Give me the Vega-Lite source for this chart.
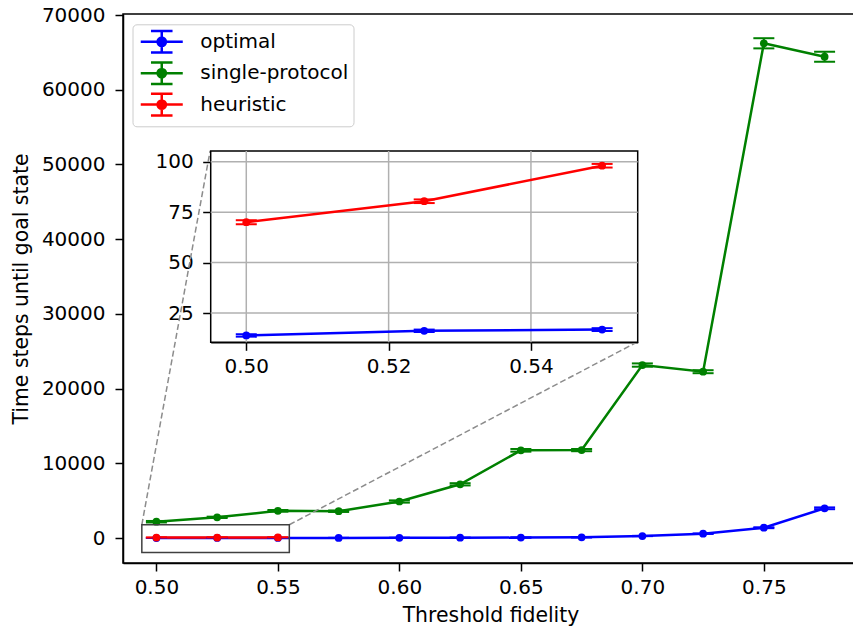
{
  "$schema": "https://vega.github.io/schema/vega-lite/v6.json",
  "autosize": {"type": "none"},
  "padding": {"left": 123, "top": 14, "right": 0, "bottom": 63},
  "width": 735,
  "height": 549,
  "background": "white",
  "config": {
    "font": "DejaVu Sans",
    "view": {"stroke": "black", "strokeWidth": 1.5},
    "axis": {
      "labelFont": "DejaVu Sans", "labelFontSize": 20, "labelColor": "black",
      "titleFont": "DejaVu Sans", "titleFontSize": 20.4, "titleFontWeight": "normal", "titleColor": "black",
      "tickColor": "black", "tickSize": 8, "tickWidth": 1.5,
      "domainColor": "black", "domainWidth": 1.5, "grid": false
    }
  },
  "datasets": {
    "d": [
      {"fidelity": 0.500, "steps": 13.9, "err": 0.6, "method": "optimal"},
      {"fidelity": 0.525, "steps": 16.2, "err": 0.6, "method": "optimal"},
      {"fidelity": 0.550, "steps": 16.8, "err": 0.7, "method": "optimal"},
      {"fidelity": 0.575, "steps": 29, "err": 1, "method": "optimal"},
      {"fidelity": 0.600, "steps": 35, "err": 2, "method": "optimal"},
      {"fidelity": 0.625, "steps": 50, "err": 3, "method": "optimal"},
      {"fidelity": 0.650, "steps": 70, "err": 4, "method": "optimal"},
      {"fidelity": 0.675, "steps": 110, "err": 6, "method": "optimal"},
      {"fidelity": 0.700, "steps": 280, "err": 15, "method": "optimal"},
      {"fidelity": 0.725, "steps": 590, "err": 30, "method": "optimal"},
      {"fidelity": 0.750, "steps": 1390, "err": 60, "method": "optimal"},
      {"fidelity": 0.775, "steps": 3990, "err": 120, "method": "optimal"},
      {"fidelity": 0.500, "steps": 2195, "err": 100, "method": "single-protocol"},
      {"fidelity": 0.525, "steps": 2780, "err": 90, "method": "single-protocol"},
      {"fidelity": 0.550, "steps": 3650, "err": 110, "method": "single-protocol"},
      {"fidelity": 0.575, "steps": 3600, "err": 100, "method": "single-protocol"},
      {"fidelity": 0.600, "steps": 4900, "err": 150, "method": "single-protocol"},
      {"fidelity": 0.625, "steps": 7200, "err": 150, "method": "single-protocol"},
      {"fidelity": 0.650, "steps": 11750, "err": 180, "method": "single-protocol"},
      {"fidelity": 0.675, "steps": 11780, "err": 150, "method": "single-protocol"},
      {"fidelity": 0.700, "steps": 23160, "err": 220, "method": "single-protocol"},
      {"fidelity": 0.725, "steps": 22270, "err": 200, "method": "single-protocol"},
      {"fidelity": 0.750, "steps": 66220, "err": 680, "method": "single-protocol"},
      {"fidelity": 0.775, "steps": 64420, "err": 670, "method": "single-protocol"},
      {"fidelity": 0.500, "steps": 70.0, "err": 1.0, "method": "heuristic"},
      {"fidelity": 0.525, "steps": 80.4, "err": 0.9, "method": "heuristic"},
      {"fidelity": 0.550, "steps": 98.0, "err": 0.9, "method": "heuristic"}
    ],
    "zoombox": [{"x": 0.494, "x2": 0.5547, "y": -1910, "y2": 1790}],
    "connectors": [
      {"x": 0.494, "y": 1790, "x2": 0.5221, "y2": 51820},
      {"x": 0.5547, "y": 1790, "x2": 0.6978, "y2": 26230}
    ],
    "insetXGrid": [{"v": 0.50}, {"v": 0.52}, {"v": 0.54}],
    "insetYGrid": [{"v": 25}, {"v": 50}, {"v": 75}, {"v": 100}]
  },
  "resolve": {"scale": {"x": "independent", "y": "independent"}, "axis": {"x": "independent", "y": "independent"}},
  "layer": [
    {
      "data": {"name": "d"},
      "mark": {"type": "line", "strokeWidth": 2.5},
      "encoding": {
        "x": {"field": "fidelity", "type": "quantitative", "scale": {"domain": [0.48625, 0.78875], "nice": false, "zero": false},
              "axis": {"orient": "bottom", "title": "Threshold fidelity", "values": [0.5, 0.55, 0.6, 0.65, 0.7, 0.75], "format": ".2f", "labelPadding": 6, "titlePadding": 8}},
        "y": {"field": "steps", "type": "quantitative", "scale": {"domain": [-3330, 70140], "nice": false, "zero": false},
              "axis": {"orient": "left", "title": "Time steps until goal state", "values": [0, 10000, 20000, 30000, 40000, 50000, 60000, 70000], "format": "d", "labelPadding": 10, "titlePadding": 10}},
        "color": {"field": "method", "type": "nominal",
                  "scale": {"domain": ["optimal", "single-protocol", "heuristic"], "range": ["#0000ff", "#008000", "#ff0000"]},
                  "legend": {
                    "orient": "none", "legendX": 9.5, "legendY": 10.3, "title": null,
                    "padding": 5, "strokeColor": "#cccccc", "fillColor": "rgba(255,255,255,0.8)", "cornerRadius": 4,
                    "labelFont": "DejaVu Sans", "labelFontSize": 20, "labelColor": "black", "labelOffset": 26,
                    "symbolType": "M-1.91,0H1.91M0,-0.98V0.98M-0.98,-0.98H0.98M-0.98,0.98H0.98M-0.38,0A0.38,0.38,0,1,0,0.38,0A0.38,0.38,0,1,0,-0.38,0Z",
                    "symbolSize": 484, "symbolStrokeWidth": 2.5, "symbolOffset": 11.75, "rowPadding": -1.6,
                    "encode": {"symbols": {"update": {"fill": {"scale": "color", "field": "value"}, "stroke": {"scale": "color", "field": "value"}, "opacity": {"value": 1}}}}
                  }}
      }
    },
    {
      "data": {"name": "d"},
      "mark": {"type": "errorbar", "ticks": {"size": 21}, "thickness": 2, "opacity": 1},
      "encoding": {
        "x": {"field": "fidelity", "type": "quantitative", "scale": {"domain": [0.48625, 0.78875], "nice": false, "zero": false}, "axis": null},
        "y": {"field": "steps", "type": "quantitative", "scale": {"domain": [-3330, 70140], "nice": false, "zero": false}, "axis": null},
        "yError": {"field": "err"},
        "color": {"field": "method", "type": "nominal", "scale": {"domain": ["optimal", "single-protocol", "heuristic"], "range": ["#0000ff", "#008000", "#ff0000"]}, "legend": null}
      }
    },
    {
      "data": {"name": "d"},
      "mark": {"type": "point", "filled": true, "size": 60, "opacity": 1},
      "encoding": {
        "x": {"field": "fidelity", "type": "quantitative", "scale": {"domain": [0.48625, 0.78875], "nice": false, "zero": false}, "axis": null},
        "y": {"field": "steps", "type": "quantitative", "scale": {"domain": [-3330, 70140], "nice": false, "zero": false}, "axis": null},
        "color": {"field": "method", "type": "nominal", "scale": {"domain": ["optimal", "single-protocol", "heuristic"], "range": ["#0000ff", "#008000", "#ff0000"]}, "legend": null}
      }
    },
    {
      "data": {"name": "connectors"},
      "mark": {"type": "rule", "color": "#8c8c8c", "strokeWidth": 1.5, "strokeDash": [6, 3]},
      "encoding": {
        "x": {"field": "x", "type": "quantitative", "scale": {"domain": [0.48625, 0.78875], "nice": false, "zero": false}, "axis": null},
        "x2": {"field": "x2"},
        "y": {"field": "y", "type": "quantitative", "scale": {"domain": [-3330, 70140], "nice": false, "zero": false}, "axis": null},
        "y2": {"field": "y2"}
      }
    },
    {
      "data": {"name": "zoombox"},
      "mark": {"type": "rect", "fillOpacity": 0, "stroke": "#404040", "strokeWidth": 1.5},
      "encoding": {
        "x": {"field": "x", "type": "quantitative", "scale": {"domain": [0.48625, 0.78875], "nice": false, "zero": false}, "axis": null},
        "x2": {"field": "x2"},
        "y": {"field": "y", "type": "quantitative", "scale": {"domain": [-3330, 70140], "nice": false, "zero": false}, "axis": null},
        "y2": {"field": "y2"}
      }
    },
    {
      "data": {"values": [{}]},
      "mark": {"type": "rect", "fill": "white", "stroke": "black", "strokeWidth": 1.5},
      "encoding": {
        "x": {"datum": 0.495, "type": "quantitative", "scale": {"domain": [0.495, 0.555], "range": [87.7, 514.7], "nice": false, "zero": false},
              "axis": {"orient": "bottom", "offset": -220.7, "values": [0.5, 0.52, 0.54], "format": ".2f", "title": null, "labelPadding": 6}},
        "x2": {"datum": 0.555},
        "y": {"datum": 10.5, "type": "quantitative", "scale": {"domain": [10.5, 105.3], "range": [328.3, 137], "nice": false, "zero": false},
              "axis": {"orient": "left", "offset": -87.7, "values": [25, 50, 75, 100], "format": "d", "title": null, "labelPadding": 9.5}},
        "y2": {"datum": 105.3}
      }
    },
    {
      "data": {"name": "insetXGrid"},
      "mark": {"type": "rule", "color": "#b0b0b0", "strokeWidth": 1.5},
      "encoding": {
        "x": {"field": "v", "type": "quantitative", "scale": {"domain": [0.495, 0.555], "range": [87.7, 514.7], "nice": false, "zero": false}, "axis": null},
        "y": {"datum": 10.5, "type": "quantitative", "scale": {"domain": [10.5, 105.3], "range": [328.3, 137], "nice": false, "zero": false}, "axis": null},
        "y2": {"datum": 105.3}
      }
    },
    {
      "data": {"name": "insetYGrid"},
      "mark": {"type": "rule", "color": "#b0b0b0", "strokeWidth": 1.5},
      "encoding": {
        "y": {"field": "v", "type": "quantitative", "scale": {"domain": [10.5, 105.3], "range": [328.3, 137], "nice": false, "zero": false}, "axis": null},
        "x": {"datum": 0.495, "type": "quantitative", "scale": {"domain": [0.495, 0.555], "range": [87.7, 514.7], "nice": false, "zero": false}, "axis": null},
        "x2": {"datum": 0.555}
      }
    },
    {
      "data": {"name": "d"},
      "transform": [{"filter": "datum.fidelity <= 0.555 && datum.method != 'single-protocol'"}],
      "mark": {"type": "line", "strokeWidth": 2.5},
      "encoding": {
        "x": {"field": "fidelity", "type": "quantitative", "scale": {"domain": [0.495, 0.555], "range": [87.7, 514.7], "nice": false, "zero": false}, "axis": null},
        "y": {"field": "steps", "type": "quantitative", "scale": {"domain": [10.5, 105.3], "range": [328.3, 137], "nice": false, "zero": false}, "axis": null},
        "color": {"field": "method", "type": "nominal", "scale": {"domain": ["optimal", "single-protocol", "heuristic"], "range": ["#0000ff", "#008000", "#ff0000"]}, "legend": null}
      }
    },
    {
      "data": {"name": "d"},
      "transform": [{"filter": "datum.fidelity <= 0.555 && datum.method != 'single-protocol'"}],
      "mark": {"type": "errorbar", "ticks": {"size": 21}, "thickness": 2, "opacity": 1},
      "encoding": {
        "x": {"field": "fidelity", "type": "quantitative", "scale": {"domain": [0.495, 0.555], "range": [87.7, 514.7], "nice": false, "zero": false}, "axis": null},
        "y": {"field": "steps", "type": "quantitative", "scale": {"domain": [10.5, 105.3], "range": [328.3, 137], "nice": false, "zero": false}, "axis": null},
        "yError": {"field": "err"},
        "color": {"field": "method", "type": "nominal", "scale": {"domain": ["optimal", "single-protocol", "heuristic"], "range": ["#0000ff", "#008000", "#ff0000"]}, "legend": null}
      }
    },
    {
      "data": {"name": "d"},
      "transform": [{"filter": "datum.fidelity <= 0.555 && datum.method != 'single-protocol'"}],
      "mark": {"type": "point", "filled": true, "size": 60, "opacity": 1},
      "encoding": {
        "x": {"field": "fidelity", "type": "quantitative", "scale": {"domain": [0.495, 0.555], "range": [87.7, 514.7], "nice": false, "zero": false}, "axis": null},
        "y": {"field": "steps", "type": "quantitative", "scale": {"domain": [10.5, 105.3], "range": [328.3, 137], "nice": false, "zero": false}, "axis": null},
        "color": {"field": "method", "type": "nominal", "scale": {"domain": ["optimal", "single-protocol", "heuristic"], "range": ["#0000ff", "#008000", "#ff0000"]}, "legend": null}
      }
    }
  ]
}
